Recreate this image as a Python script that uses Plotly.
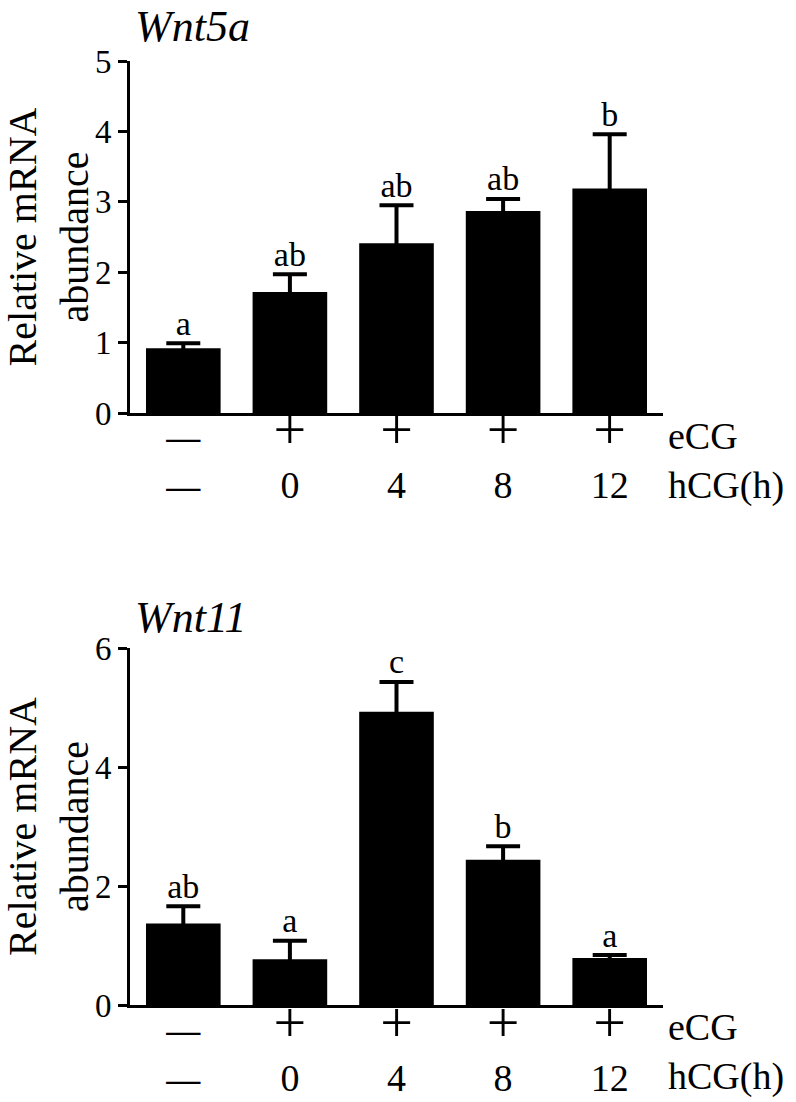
import plotly.graph_objects as go

# ---- data ----
groups = [0, 1, 2, 3, 4]
ecg_labels = ["—", "+", "+", "+", "+"]
hcg_labels = ["—", "0", "4", "8", "12"]

wnt5a_mean = [0.92, 1.72, 2.41, 2.87, 3.19]
wnt5a_err = [0.07, 0.25, 0.54, 0.17, 0.77]
wnt5a_sig = ["a", "ab", "ab", "ab", "b"]

wnt11_mean = [1.37, 0.77, 4.93, 2.44, 0.79]
wnt11_err = [0.29, 0.31, 0.50, 0.23, 0.05]
wnt11_sig = ["ab", "a", "c", "b", "a"]

FONT = "Liberation Serif, Times New Roman, Times, serif"
W, H = 796, 1102

fig = go.Figure()

def add_panel(mean, err, sig, xa, ya):
    # symmetric error bars: the lower half is hidden inside the black bar
    fig.add_trace(go.Bar(
        x=groups, y=mean, width=0.7, marker=dict(color="black", line=dict(width=0)),
        error_y=dict(type="data", array=err, color="black", thickness=4, width=17),
        xaxis=xa, yaxis=ya, showlegend=False, hoverinfo="skip"))
    fig.add_trace(go.Scatter(
        x=groups, y=[m + e for m, e in zip(mean, err)], mode="text", text=sig,
        textposition="top center", textfont=dict(family=FONT, size=34, color="black"),
        xaxis=xa, yaxis=ya, showlegend=False, hoverinfo="skip"))

add_panel(wnt5a_mean, wnt5a_err, wnt5a_sig, "x", "y")
add_panel(wnt11_mean, wnt11_err, wnt11_sig, "x2", "y2")

def fmt(s):
    if s == "+":
        return "<span style='font-size:58px'>+</span>"
    if s == "—":
        return "<span style='font-size:34px'><b>—</b></span>"
    return s

ticktext = [f"{fmt(e)}<br>{fmt(h)}" for e, h in zip(ecg_labels, hcg_labels)]
xd = [130 / W, 663 / W]

xcommon = dict(range=[-0.5, 4.5], showline=True, linewidth=3, linecolor="black",
               ticks="", tickvals=groups, ticktext=ticktext, showgrid=False, zeroline=False,
               tickfont=dict(family=FONT, size=38, color="black"), fixedrange=True)
ycommon = dict(showline=True, linewidth=3, linecolor="black", ticks="outside", ticklen=9,
               tickwidth=3, tickcolor="black", showgrid=False, zeroline=False,
               tickfont=dict(family=FONT, size=33, color="black"),
               title=dict(text="Relative mRNA<br>abundance",
                          font=dict(family=FONT, size=40, color="black"), standoff=4))

fig.update_layout(
    width=W, height=H, margin=dict(l=0, r=0, t=0, b=0, autoexpand=False),
    font=dict(family=FONT, color="black"),
    paper_bgcolor="white", plot_bgcolor="white", bargap=0.3,
    xaxis=dict(domain=xd, anchor="y", ticklabelstandoff=-13, **xcommon),
    yaxis=dict(domain=[1 - 413 / H, 1 - 61 / H], range=[0, 5], dtick=1, anchor="x", **ycommon),
    xaxis2=dict(domain=xd, anchor="y2", ticklabelstandoff=-12, **xcommon),
    yaxis2=dict(domain=[1 - 1005 / H, 1 - 648 / H], range=[0, 6], dtick=2, anchor="x2", **ycommon),
)

fig.add_annotation(text="<i>Wnt5a</i>", x=133 / W, y=1, xref="paper", yref="paper",
                   xanchor="left", yanchor="top", showarrow=False,
                   font=dict(family=FONT, size=44, color="black"))
fig.add_annotation(text="<i>Wnt11</i>", x=133 / W, y=1 - 617 / H, xref="paper", yref="paper",
                   xanchor="left", yanchor="middle", showarrow=False,
                   font=dict(family=FONT, size=44, color="black"))
for yc in (1 - 461 / H, 1 - 1052 / H):
    fig.add_annotation(text="eCG<br>hCG(h)", x=666 / W, y=yc, xref="paper", yref="paper",
                       xanchor="left", yanchor="middle", align="left", showarrow=False,
                       font=dict(family=FONT, size=38, color="black"))

fig.write_html("out.html", config={"displayModeBar": False},
               post_script="document.body.style.margin='0';document.body.style.overflow='hidden';")
